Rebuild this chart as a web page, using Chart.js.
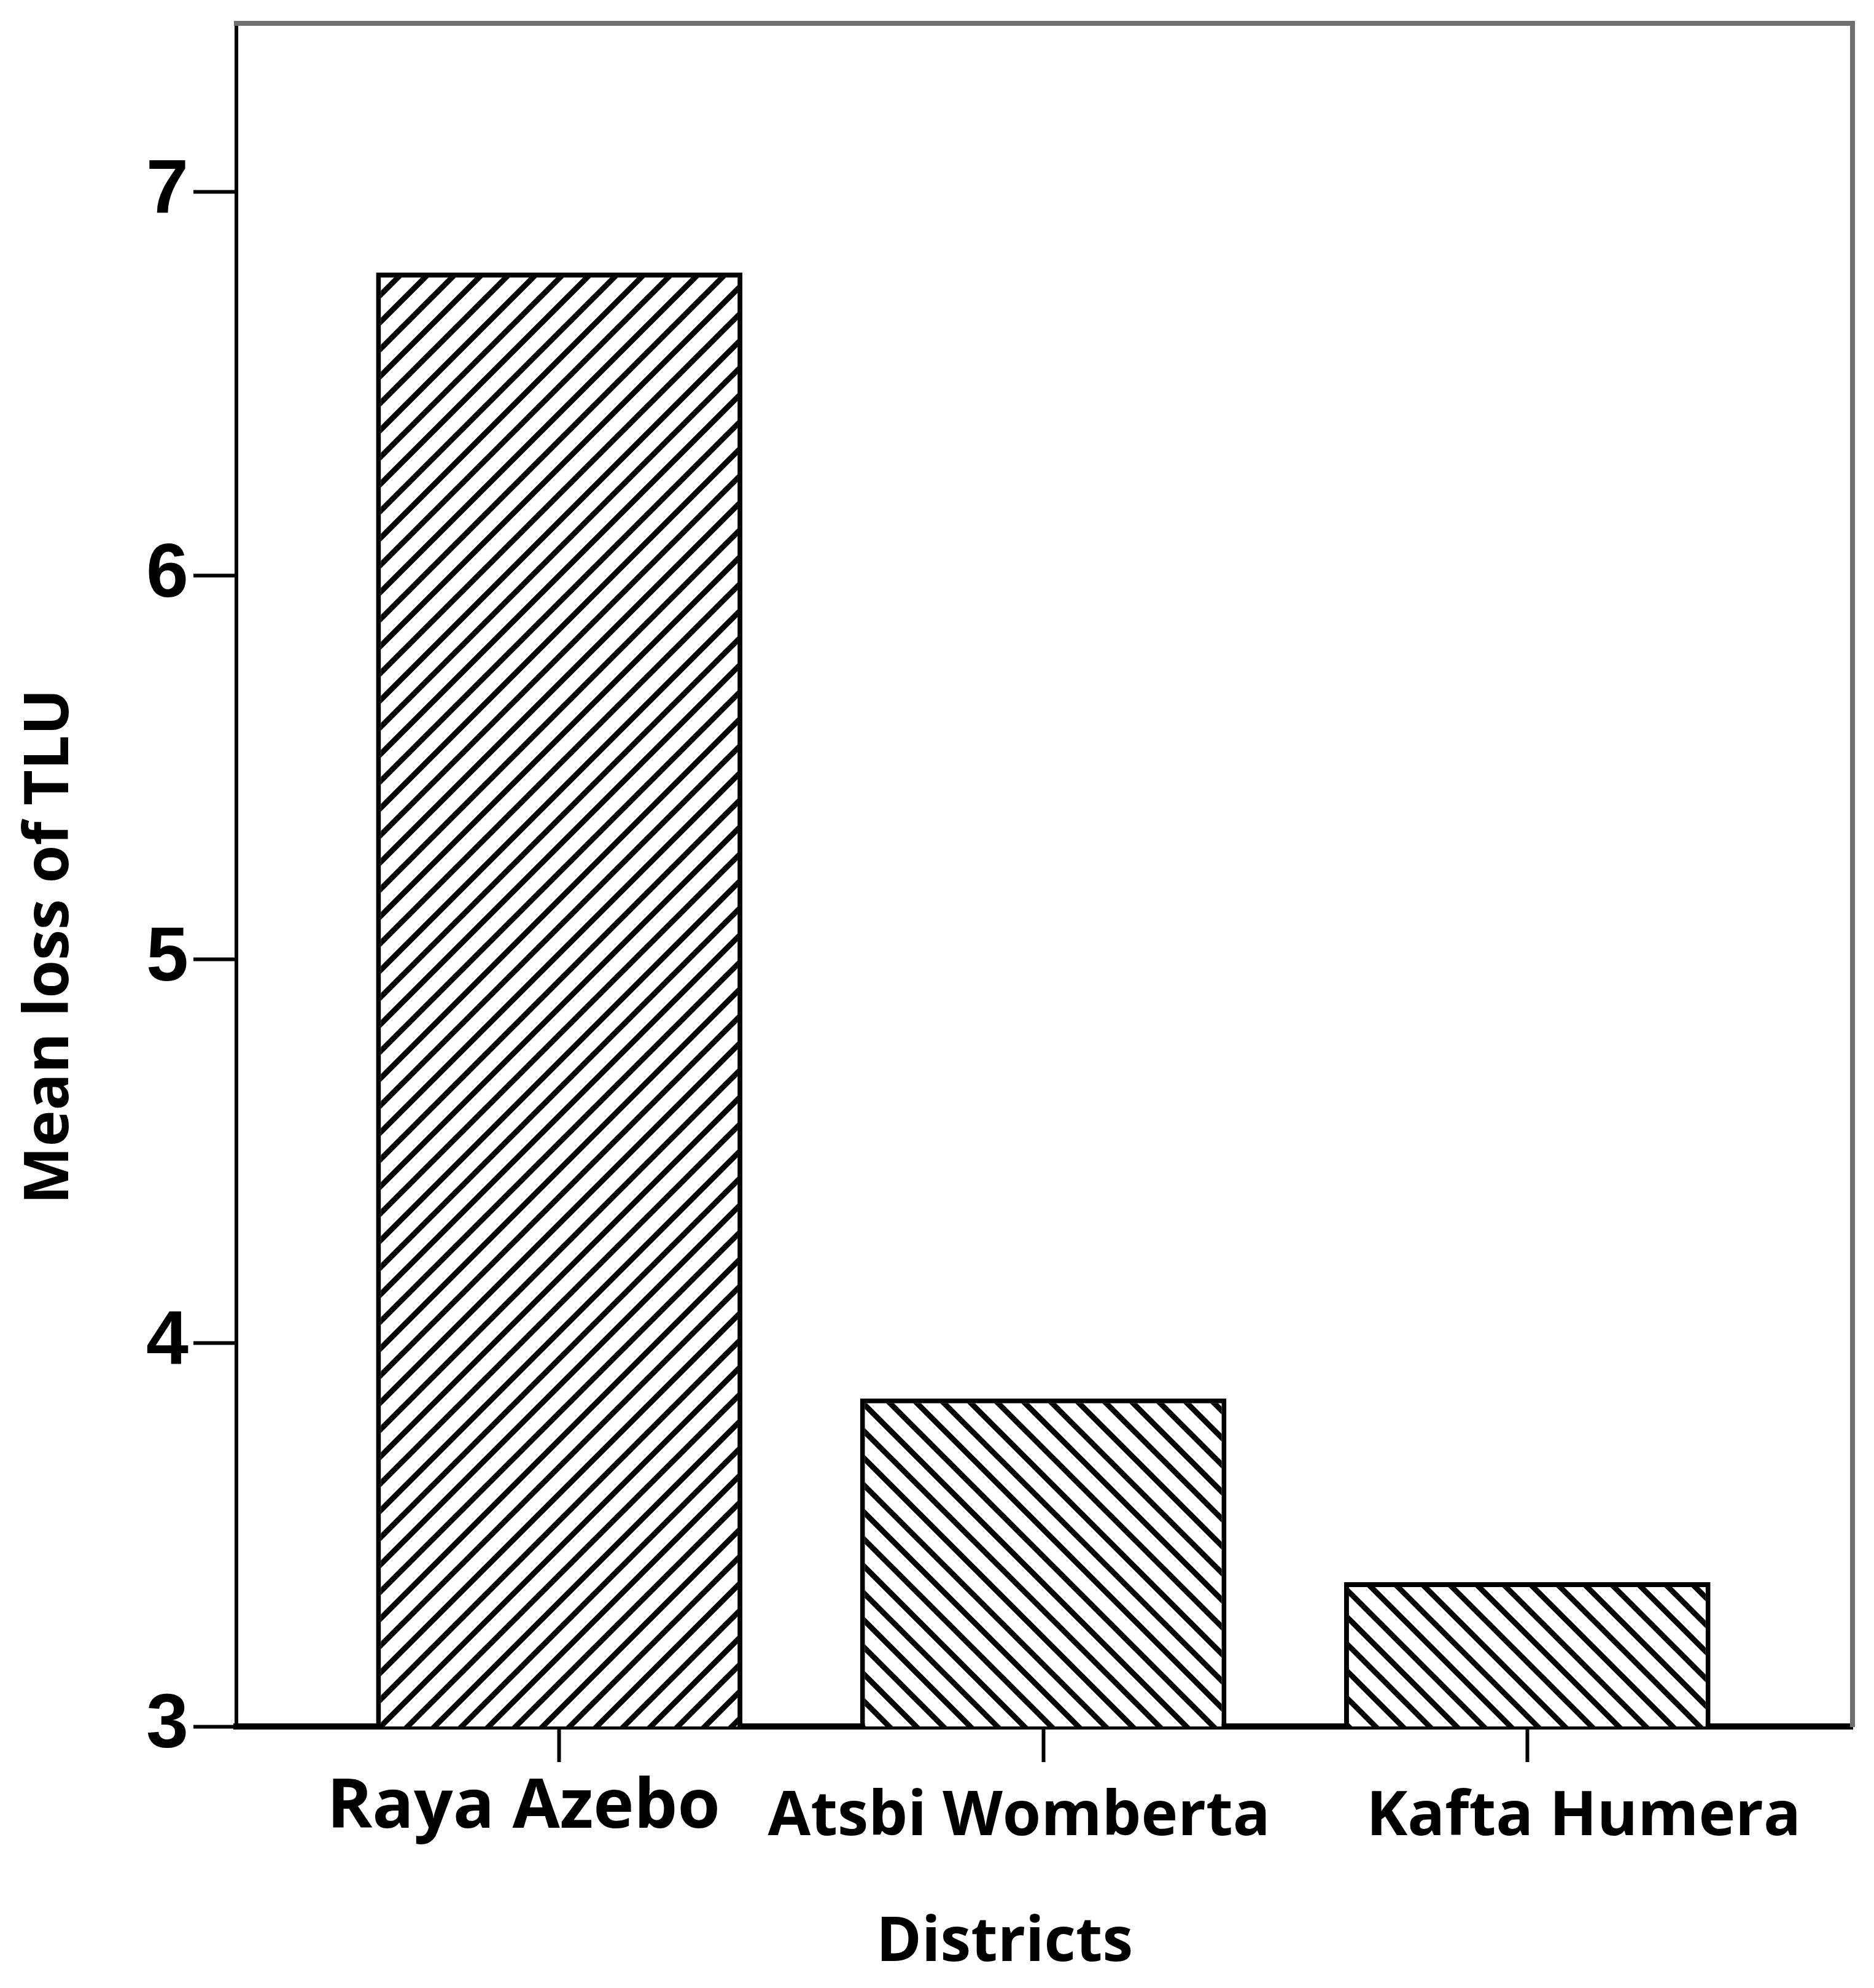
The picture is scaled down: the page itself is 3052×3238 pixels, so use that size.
<!DOCTYPE html>
<html>
<head>
<meta charset="utf-8">
<script src="https://cdn.jsdelivr.net/npm/chart.js@4.4.1/dist/chart.umd.min.js"></script>
<style>
  body { margin: 0; background: #fff; }
  canvas { display: block; }
</style>
</head>
<body>
<canvas id="mycanvas" width="3052" height="3238" style="width:3052px;height:3238px"></canvas>
<script>
// data
var districts = ['Raya Azebo', 'Atsbi Womberta', 'Kafta Humera'];
var positions = [0, 1, 2];
var meanLoss = [6.79, 3.855, 3.376];
var hatchDir = ['/', '\\', '\\'];
var yTicks = [3, 4, 5, 6, 7];
var yMin = 3, yMax = 7.44;
var xMin = -0.667, xMax = 2.672;

// diagonal hatch fill
function hatch(dir) {
  var s = 44;
  var c = document.createElement('canvas');
  c.width = s; c.height = s;
  var g = c.getContext('2d');
  g.fillStyle = '#fff';
  g.fillRect(0, 0, s, s);
  g.strokeStyle = '#000';
  g.lineWidth = 9;
  g.beginPath();
  for (var k = -1; k <= 2; k++) {
    var cc = k * s;
    if (dir == '/') {
      g.moveTo(cc + s, -s); g.lineTo(cc - 2 * s, 2 * s);
    } else {
      g.moveTo(cc - s, -s); g.lineTo(cc + 2 * s, 2 * s);
    }
  }
  g.stroke();
  return g.createPattern(c, 'repeat');
}

var points = [];
var fills = [];
for (var i in districts) {
  points.push({x: positions[i], y: meanLoss[i]});
  fills.push(hatch(hatchDir[i]));
}

function noPad(scale) {
  scale.paddingTop = 0; scale.paddingBottom = 0;
  scale.paddingLeft = 0; scale.paddingRight = 0;
}

// labels in the original sit a little off their ticks
function nudge(label, idx) {
  if (idx === 0) return label + '    ';
  if (idx === 1) return label + '   ';
  return '       ' + label;
}

var ctx = document.getElementById('mycanvas');

var barGraph = new Chart(ctx, {
  type: 'bar',
  data: {
    datasets: [{
      label: 'Mean loss of TLU',
      data: points,
      backgroundColor: fills,
      borderColor: '#000',
      borderWidth: 8,
      borderSkipped: false,
      barPercentage: 0.757,
      categoryPercentage: 1
    }]
  },
  options: {
    responsive: false,
    animation: false,
    layout: { padding: { top: 38, right: 35, left: 0, bottom: 0 } },
    plugins: {
      legend: { display: false },
      tooltip: { enabled: false }
    },
    scales: {
      x: {
        type: 'linear',
        position: 'bottom',
        offset: false,
        min: xMin,
        max: xMax,
        afterBuildTicks: function(scale) {
          scale.ticks = positions.map(function(p) { return {value: p}; });
        },
        afterFit: function(scale) { scale.height = 426; noPad(scale); },
        grid: { offset: false, drawOnChartArea: false, tickLength: 58, tickWidth: 6, tickColor: '#000' },
        border: { color: '#000', width: 10 },
        ticks: {
          color: '#000',
          padding: 30,
          maxRotation: 0,
          autoSkip: false,
          callback: function(v) {
            var k = positions.indexOf(v);
            return nudge(districts[k], k);
          },
          font: function(c) {
            if (c.index === 0) return { family: 'Open Sans', weight: 'bold', size: 112, lineHeight: 0.8 };
            return { family: 'Open Sans', weight: 'bold', size: 101, lineHeight: 1.2 };
          }
        },
        title: {
          display: true,
          text: 'Districts     ',
          color: '#000',
          font: { family: 'Open Sans', weight: 'bold', size: 100 },
          padding: { top: 0, bottom: 12 }
        }
      },
      y: {
        type: 'linear',
        position: 'left',
        min: yMin,
        max: yMax,
        afterBuildTicks: function(scale) {
          scale.ticks = yTicks.map(function(t) { return {value: t}; });
        },
        afterFit: function(scale) { scale.width = 385; noPad(scale); },
        grid: { drawOnChartArea: false, tickLength: 70, tickWidth: 6, tickColor: '#000' },
        border: { color: '#000', width: 6 },
        ticks: {
          color: '#000',
          padding: 8,
          font: { family: '"Liberation Sans", Arial, sans-serif', weight: 'bold', size: 124 }
        },
        title: {
          display: true,
          text: 'Mean loss of TLU         ',
          color: '#000',
          font: { family: 'Open Sans', weight: 'bold', size: 100 },
          padding: { top: 23, bottom: 0 }
        }
      },
      xTop: {
        type: 'linear',
        position: 'top',
        min: xMin,
        max: xMax,
        afterFit: function(scale) { scale.height = 0; noPad(scale); },
        ticks: { display: false },
        grid: { display: false, drawTicks: false },
        border: { color: '#6e6e6e', width: 8 }
      },
      yRight: {
        type: 'linear',
        position: 'right',
        min: yMin,
        max: yMax,
        afterFit: function(scale) { scale.width = 0; noPad(scale); },
        ticks: { display: false },
        grid: { display: false, drawTicks: false },
        border: { color: '#6e6e6e', width: 8 }
      }
    }
  }
});
</script>
</body>
</html>
